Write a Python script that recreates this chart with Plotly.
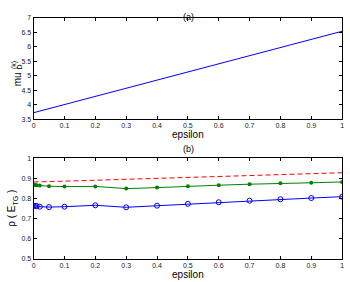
import plotly.graph_objects as go

# (a)
eps_a = [0, 0.1, 0.2, 0.3, 0.4, 0.5, 0.6, 0.7, 0.8, 0.9, 1.0]
mu_a = [3.72, 4.00, 4.28, 4.56, 4.84, 5.12, 5.41, 5.69, 5.97, 6.25, 6.53]

# (b)
eps_b = [0, 0.005, 0.01, 0.02, 0.05, 0.1, 0.2, 0.3, 0.4, 0.5, 0.6, 0.7, 0.8, 0.9, 1.0]
rho_red = [0.881, 0.881, 0.881, 0.882, 0.883, 0.885, 0.89, 0.892, 0.897, 0.903, 0.907, 0.912, 0.917, 0.922, 0.927]
rho_green = [0.866, 0.866, 0.865, 0.863, 0.86, 0.858, 0.859, 0.848, 0.853, 0.86, 0.865, 0.87, 0.875, 0.877, 0.881]
rho_blue = [0.762, 0.762, 0.761, 0.758, 0.756, 0.758, 0.765, 0.755, 0.763, 0.772, 0.78, 0.788, 0.795, 0.801, 0.808]

x_ticks = [0, 0.1, 0.2, 0.3, 0.4, 0.5, 0.6, 0.7, 0.8, 0.9, 1]
x_labels = ["0", "0.1", "0.2", "0.3", "0.4", "0.5", "0.6", "0.7", "0.8", "0.9", "1"]
ya_ticks = [3.5, 4, 4.5, 5, 5.5, 6, 6.5, 7]
ya_labels = ["3.5", "4", "4.5", "5", "5.5", "6", "6.5", "7"]
yb_ticks = [0.5, 0.6, 0.7, 0.8, 0.9, 1]
yb_labels = ["0.5", "0.6", "0.7", "0.8", "0.9", "1"]

FONT = "Liberation Sans, Arial, sans-serif"
W, H = 350, 282

fig = go.Figure()
fig.add_trace(go.Scatter(x=eps_a, y=mu_a, mode="lines",
                         line=dict(color="#0000ff", width=1),
                         xaxis="x", yaxis="y", showlegend=False))
fig.add_trace(go.Scatter(x=eps_b, y=rho_red, mode="lines",
                         line=dict(color="#ff0000", width=1, dash="5px,3px"),
                         xaxis="x2", yaxis="y2", showlegend=False))
fig.add_trace(go.Scatter(x=eps_b, y=rho_green, mode="lines+markers",
                         line=dict(color="#008000", width=1),
                         marker=dict(symbol="circle", size=4, color="#008000"),
                         xaxis="x2", yaxis="y2", showlegend=False))
fig.add_trace(go.Scatter(x=eps_b, y=rho_blue, mode="lines+markers",
                         line=dict(color="#0000ff", width=1),
                         marker=dict(symbol="circle-open", size=5, color="#0000ff",
                                     line=dict(width=1)),
                         xaxis="x2", yaxis="y2", showlegend=False))

axis_common = dict(showline=True, linecolor="black", linewidth=1, mirror="ticks",
                   ticks="inside", ticklen=3, tickcolor="black", showgrid=False,
                   zeroline=False, tickfont=dict(family=FONT, size=7, color="#222"))


def px_x(p):
    return p / W


def px_y(p):
    return 1 - p / H


fig.update_layout(
    width=W, height=H,
    margin=dict(l=0, r=0, t=0, b=0),
    paper_bgcolor="white", plot_bgcolor="white",
    font=dict(family=FONT, color="black"),
    xaxis=dict(domain=[0.0914, 0.983], anchor="y", range=[0, 1],
               tickvals=x_ticks, ticktext=x_labels,
               title=dict(text="epsilon", font=dict(size=10), standoff=1), **axis_common),
    yaxis=dict(domain=[0.5816, 0.9504], anchor="x", range=[3.5, 7],
               tickvals=ya_ticks, ticktext=ya_labels, **axis_common),
    xaxis2=dict(domain=[0.0914, 0.983], anchor="y2", range=[0, 1],
                tickvals=x_ticks, ticktext=x_labels,
                title=dict(text="epsilon", font=dict(size=10), standoff=1), **axis_common),
    yaxis2=dict(domain=[0.0745, 0.4397], anchor="x2", range=[0.5, 1],
                tickvals=yb_ticks, ticktext=yb_labels,
                title=dict(text="ρ ( E<sub>TG</sub> )", font=dict(size=10), standoff=3),
                **axis_common),
    annotations=[
        dict(text="(a)", x=px_x(189), y=px_y(6), xref="paper", yref="paper",
             showarrow=False, font=dict(size=9, family=FONT)),
        dict(text="(b)", x=px_x(189), y=px_y(149), xref="paper", yref="paper",
             showarrow=False, font=dict(size=9, family=FONT)),
        dict(text="mu", x=px_x(7.5), y=px_y(68), xref="paper", yref="paper",
             textangle=-90, showarrow=False, font=dict(size=10, family=FONT)),
        dict(text="D", x=px_x(12.5), y=px_y(59.5), xref="paper", yref="paper",
             textangle=-90, showarrow=False, font=dict(size=7, family=FONT)),
        dict(text="(k)", x=px_x(5.5), y=px_y(56), xref="paper", yref="paper",
             textangle=-90, showarrow=False, font=dict(size=7, family=FONT)),
    ],
)

fig.write_html("out.html")
